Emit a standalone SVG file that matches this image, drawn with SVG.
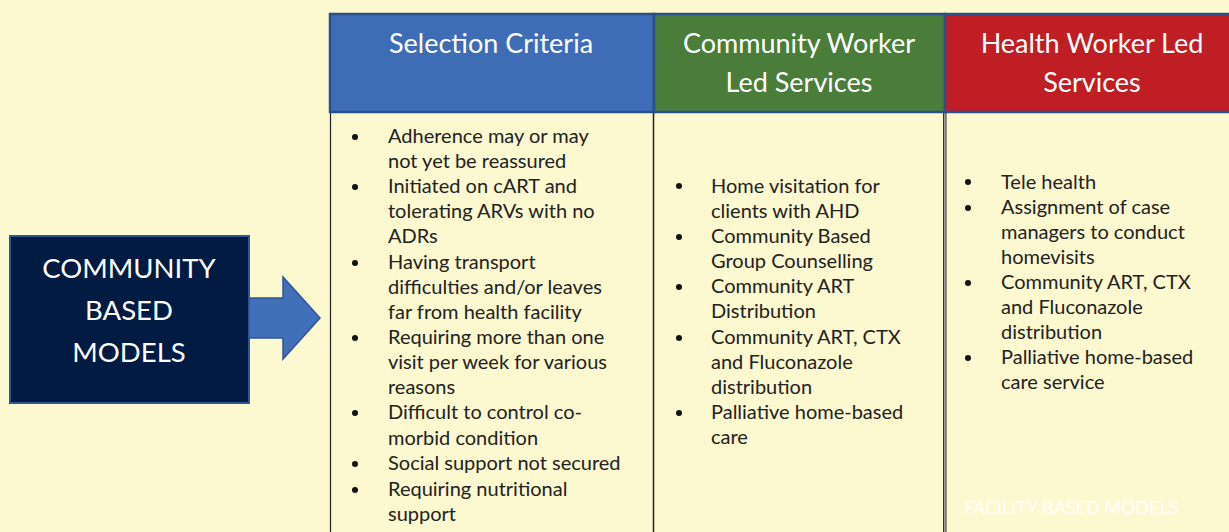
<svg xmlns="http://www.w3.org/2000/svg" width="1229" height="532" viewBox="0 0 1229 532">
<style>
.hd{font-family:Lato,"Open Sans","Liberation Sans",sans-serif;font-size:27px;fill:#ffffff;text-anchor:middle}
.bd{font-family:Lato,"Open Sans","Liberation Sans",sans-serif;font-size:20px;fill:#222222}
.bl{fill:#111111}
.cb{font-family:Lato,"Open Sans","Liberation Sans",sans-serif;font-size:27.5px;fill:#ffffff;text-anchor:middle}
</style>
<rect x="0" y="0" width="1229" height="532" fill="#fcf8cf"/>
<g id="community-based-models">
<rect x="10" y="236" width="239" height="167" fill="#011b42" stroke="#2f5597" stroke-width="2"/>
<text class="cb" x="129" y="278">COMMUNITY</text>
<text class="cb" x="129" y="320">BASED</text>
<text class="cb" x="129" y="362">MODELS</text>
</g>
<g id="connectors">
<path d="M249,298 L283,298 L283,277 L320,318 L283,359 L283,338 L249,338 Z" fill="#4270b8" stroke="#2f5597" stroke-width="1.5"/>
</g>
<g id="table-lines">
<line x1="330.5" y1="112" x2="330.5" y2="532" stroke="#222" stroke-width="1.2"/>
<line x1="653.5" y1="112" x2="653.5" y2="532" stroke="#222" stroke-width="1.5"/>
<line x1="943.5" y1="112" x2="943.5" y2="532" stroke="#333" stroke-width="1"/>
<line x1="944.8" y1="112" x2="944.8" y2="532" stroke="#999" stroke-width="1.5"/>
<line x1="946" y1="112" x2="946" y2="532" stroke="#333" stroke-width="1"/>
</g>
<g id="selection-criteria">
<rect x="330" y="14" width="324" height="98" fill="#3e6db5" stroke="#2a4f8c" stroke-width="2.5"/>
<text class="hd" x="491" y="53">Selection Criteria</text>
<g class="bl">
<circle cx="355" cy="137" r="3"/><circle cx="355" cy="187" r="3"/><circle cx="355" cy="263" r="3"/><circle cx="355" cy="338" r="3"/><circle cx="355" cy="413" r="3"/><circle cx="355" cy="464" r="3"/><circle cx="355" cy="490" r="3"/>
</g>
<text class="bd" x="388" y="143">Adherence may or may</text>
<text class="bd" x="388" y="168">not yet be reassured</text>
<text class="bd" x="388" y="193">Initiated on cART and</text>
<text class="bd" x="388" y="218">tolerating ARVs with no</text>
<text class="bd" x="388" y="243">ADRs</text>
<text class="bd" x="388" y="269">Having transport</text>
<text class="bd" x="388" y="294">difficulties and/or leaves</text>
<text class="bd" x="388" y="319">far from health facility</text>
<text class="bd" x="388" y="344">Requiring more than one</text>
<text class="bd" x="388" y="369">visit per week for various</text>
<text class="bd" x="388" y="394">reasons</text>
<text class="bd" x="388" y="419">Difficult to control co-</text>
<text class="bd" x="388" y="445">morbid condition</text>
<text class="bd" x="388" y="470">Social support not secured</text>
<text class="bd" x="388" y="496">Requiring nutritional</text>
<text class="bd" x="388" y="521">support</text>
</g>
<g id="community-worker-led">
<rect x="654" y="14" width="291" height="98" fill="#4a7d3a" stroke="#2a4f8c" stroke-width="2.5"/>
<text class="hd" x="799" y="53">Community Worker</text>
<text class="hd" x="799" y="92">Led Services</text>
<g class="bl">
<circle cx="679" cy="186" r="3"/><circle cx="679" cy="237" r="3"/><circle cx="679" cy="287" r="3"/><circle cx="679" cy="338" r="3"/><circle cx="679" cy="413" r="3"/>
</g>
<text class="bd" x="711" y="193">Home visitation for</text>
<text class="bd" x="711" y="218">clients with AHD</text>
<text class="bd" x="711" y="243">Community Based</text>
<text class="bd" x="711" y="268">Group Counselling</text>
<text class="bd" x="711" y="293">Community ART</text>
<text class="bd" x="711" y="318">Distribution</text>
<text class="bd" x="711" y="344">Community ART, CTX</text>
<text class="bd" x="711" y="369">and Fluconazole</text>
<text class="bd" x="711" y="394">distribution</text>
<text class="bd" x="711" y="419">Palliative home-based</text>
<text class="bd" x="711" y="444">care</text>
</g>
<g id="health-worker-led">
<rect x="945" y="14" width="290" height="98" fill="#be1e24" stroke="#2a4f8c" stroke-width="2.5"/>
<text class="hd" x="1092" y="53">Health Worker Led</text>
<text class="hd" x="1092" y="92">Services</text>
<g class="bl">
<circle cx="968" cy="182" r="3"/><circle cx="968" cy="208" r="3"/><circle cx="968" cy="283" r="3"/><circle cx="968" cy="358" r="3"/>
</g>
<text class="bd" x="1001" y="189">Tele health</text>
<text class="bd" x="1001" y="214">Assignment of case</text>
<text class="bd" x="1001" y="239">managers to conduct</text>
<text class="bd" x="1001" y="264">homevisits</text>
<text class="bd" x="1001" y="289">Community ART, CTX</text>
<text class="bd" x="1001" y="314">and Fluconazole</text>
<text class="bd" x="1001" y="339">distribution</text>
<text class="bd" x="1001" y="364">Palliative home-based</text>
<text class="bd" x="1001" y="389">care service</text>
</g>
<g id="facility-based-models">
<text x="964" y="514" font-family="Lato,'Open Sans','Liberation Sans',sans-serif" font-size="18px" fill="#ffffff">FACILITY BASED MODELS</text>
</g>
</svg>
